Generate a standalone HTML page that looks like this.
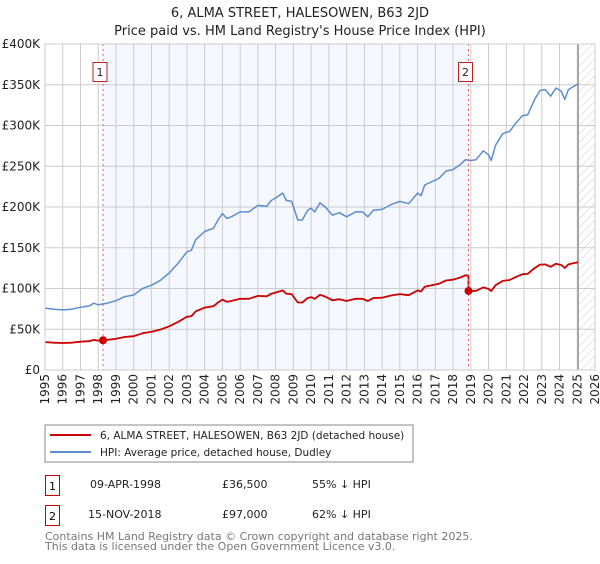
<!DOCTYPE html>
<html><head><meta charset="utf-8"><style>
body{margin:0;background:#fff;font-family:"DejaVu Sans","Liberation Sans",sans-serif;}
svg text{font-family:"DejaVu Sans","Liberation Sans",sans-serif;}
</style></head><body>
<svg id="chart" width="600" height="560" xmlns="http://www.w3.org/2000/svg">
<defs><pattern id="hatch" width="6" height="6" patternUnits="userSpaceOnUse" patternTransform="rotate(45)"><line x1="0" y1="0" x2="0" y2="6" stroke="#ccc" stroke-width="1"/></pattern></defs>
<text x="300" y="17" text-anchor="middle" font-size="13" fill="#222">6, ALMA STREET, HALESOWEN, B63 2JD</text>
<text x="300" y="35" text-anchor="middle" font-size="13" fill="#222">Price paid vs. HM Land Registry's House Price Index (HPI)</text>
<g id="plot"></g>
<rect x="45" y="425" width="368" height="37" fill="#fff" stroke="#888"/>
<line x1="50" y1="435" x2="91" y2="435" stroke="#cc0000" stroke-width="2"/>
<text x="100" y="439" font-size="10.5" fill="#222">6, ALMA STREET, HALESOWEN, B63 2JD (detached house)</text>
<line x1="50" y1="452" x2="91" y2="452" stroke="#5b8dd0" stroke-width="2"/>
<text x="100" y="456" font-size="10.5" fill="#222">HPI: Average price, detached house, Dudley</text>
<rect x="45.5" y="475.5" width="14" height="20" fill="#fff" stroke="#c00"/>
<text x="52.5" y="490" font-size="11" text-anchor="middle">1</text>
<text x="90" y="488" font-size="11" fill="#222">09-APR-1998</text>
<text x="222" y="488" font-size="11" fill="#222">£36,500</text>
<text x="312" y="488" font-size="11" fill="#222">55% ↓ HPI</text>
<rect x="45.5" y="505.5" width="14" height="20" fill="#fff" stroke="#c00"/>
<text x="52.5" y="520" font-size="11" text-anchor="middle">2</text>
<text x="88" y="518" font-size="11" fill="#222">15-NOV-2018</text>
<text x="222" y="518" font-size="11" fill="#222">£97,000</text>
<text x="312" y="518" font-size="11" fill="#222">62% ↓ HPI</text>
<text x="45" y="540" font-size="11" fill="#777">Contains HM Land Registry data © Crown copyright and database right 2025.</text>
<text x="45" y="550" font-size="11" fill="#777">This data is licensed under the Open Government Licence v3.0.</text>
</svg>
<script>
const hpiYears=[1995,1995.5,1996,1996.5,1997,1997.5,1997.75,1998,1998.5,1999,1999.5,2000,2000.5,2001,2001.5,2002,2002.5,2003,2003.25,2003.5,2004,2004.5,2004.75,2005,2005.25,2005.5,2006,2006.5,2007,2007.5,2007.75,2008,2008.4,2008.6,2008.9,2009.25,2009.5,2009.8,2010,2010.2,2010.5,2010.8,2011.2,2011.6,2012,2012.5,2012.9,2013.2,2013.5,2014,2014.5,2015,2015.5,2016,2016.2,2016.4,2016.8,2017.2,2017.6,2018,2018.4,2018.7,2019,2019.3,2019.7,2020,2020.15,2020.4,2020.8,2021.2,2021.5,2021.9,2022.2,2022.6,2022.9,2023.2,2023.5,2023.8,2024.1,2024.3,2024.5,2024.8,2025.05];
const hpiValues=[76,74.5,73.7,74.5,77,78.6,82,80,82,85,90,92,100,104,110,119,131,145,147,160,170,174,184,192,186,188,194,194,202,201,208,211,217,208,207,184,184,196,198.6,194,205,200,190,193,188,194,194,188,196,197,203,207,204,217,214,227,231,235,244,246,252,258,257,258,269,264,257,276,290,293,302,312,313,332,343,344,336,346,342,332,344,348,351];
const saleYears=[1998.27,2018.87];
const salePrices=[36.5,97];
const saleLabels=["1","2"];
const yTicks=[0,50,100,150,200,250,300,350,400];
const yTickLabels=["£0","£50K","£100K","£150K","£200K","£250K","£300K","£350K","£400K"];
const xTicks=[1995,1996,1997,1998,1999,2000,2001,2002,2003,2004,2005,2006,2007,2008,2009,2010,2011,2012,2013,2014,2015,2016,2017,2018,2019,2020,2021,2022,2023,2024,2025,2026];

const L=45,R=595,T=44,B=370;
const x=v=>L+(v-1995)/31*(R-L);
const y=v=>B-v/400*(B-T);
const g=document.getElementById('plot');
const NS='http://www.w3.org/2000/svg';
function mk(tag,attrs,parent){const e=document.createElementNS(NS,tag);for(const k in attrs)e.setAttribute(k,attrs[k]);(parent||g).appendChild(e);return e;}

const bg=mk('rect',{x:L,y:T,width:R-L,height:B-T,fill:'#fff'});


const shade=mk('rect',{x:x(saleYears[0]),y:T,width:x(saleYears[1])-x(saleYears[0]),height:B-T,fill:'#f5f8ff'});


const lastX=x(hpiYears[hpiYears.length-1]);
const hatch=mk('rect',{x:lastX,y:T,width:R-lastX,height:B-T,fill:'url(#hatch)'});



xTicks.forEach(t=>{
  const l=mk('line',{x1:x(t),y1:T,x2:x(t),y2:B,stroke:'#ccc','stroke-width':1});
  
  
  const tx=mk('text',{x:0,y:0,'font-size':12,fill:'#222','text-anchor':'end',transform:`translate(${x(t)+4},${B+4}) rotate(-90)`});
  tx.textContent=t;
  
  
});
yTicks.forEach((t,i)=>{
  const l=mk('line',{x1:L,y1:y(t),x2:R,y2:y(t),stroke:'#ccc','stroke-width':1});
  
  
  const tx=mk('text',{x:L-5,y:y(t)+4,'font-size':12,fill:'#222','text-anchor':'end'});
  tx.textContent=yTickLabels[i];
  
  
});
const endLine=mk('line',{x1:lastX,y1:T,x2:lastX,y2:B,stroke:'#999','stroke-width':1.5});



function hpiAt(yr){for(let i=1;i<hpiYears.length;i++){if(yr<=hpiYears[i]){const f=(yr-hpiYears[i-1])/(hpiYears[i]-hpiYears[i-1]);return hpiValues[i-1]+f*(hpiValues[i]-hpiValues[i-1]);}}return hpiValues[hpiValues.length-1];}
const hp=hpiYears.map((yr,i)=>`${x(yr).toFixed(1)},${y(hpiValues[i]).toFixed(1)}`).join(' ');
const hl=mk('polyline',{points:hp,fill:'none',stroke:'#5b8dd0','stroke-width':1.5,'stroke-linejoin':'round'});



const r1=salePrices[0]/hpiAt(saleYears[0]), r2=salePrices[1]/hpiAt(saleYears[1]);
let pts=[];
hpiYears.forEach((yr,i)=>{ if(yr<saleYears[1]) pts.push([yr,hpiValues[i]*r1]); });
pts.push([saleYears[1],hpiAt(saleYears[1])*r1]);
pts.push([saleYears[1],salePrices[1]]);
hpiYears.forEach((yr,i)=>{ if(yr>saleYears[1]) pts.push([yr,hpiValues[i]*r2]); });
const pl=mk('polyline',{points:pts.map(p=>`${x(p[0]).toFixed(1)},${y(p[1]).toFixed(1)}`).join(' '),fill:'none',stroke:'#cc0000','stroke-width':1.8,'stroke-linejoin':'round'});



saleYears.forEach((yr,i)=>{
  const vl=mk('line',{x1:x(yr),y1:T,x2:x(yr),y2:B,stroke:'#e06070','stroke-width':1,'stroke-dasharray':'2,3'});
  
  
  const d=mk('circle',{cx:x(yr),cy:y(salePrices[i]),r:4,fill:'#cc0000'});
  
  
  const bx=mk('rect',{x:x(yr)-10,y:62.5,width:14,height:19,fill:'#fff',stroke:'#b22'});
  
  
  const t=mk('text',{x:x(yr)-3,y:76,'font-size':11,'text-anchor':'middle',fill:'#222'});
  t.textContent=saleLabels[i];
  
  
});
const ax=mk('rect',{x:L,y:T,width:R-L,height:B-T,fill:'none',stroke:'#ccc'});


</script>
</body></html>
